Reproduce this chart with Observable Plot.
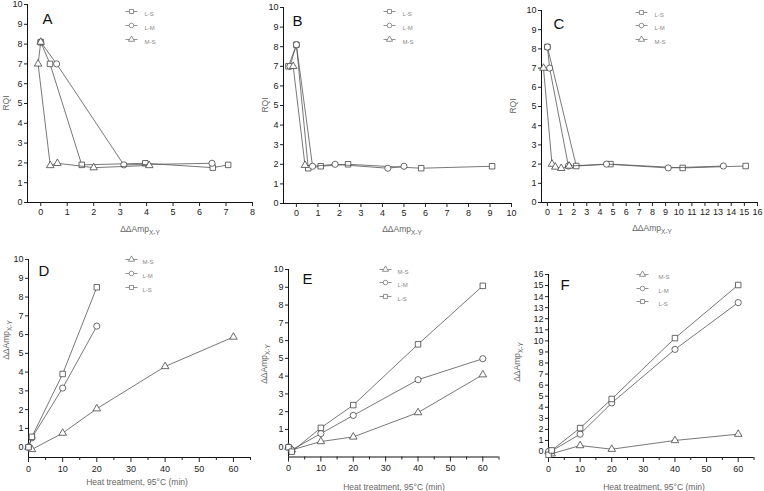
<!DOCTYPE html>
<html><head><meta charset="utf-8">
<script src="https://cdn.jsdelivr.net/npm/d3@7"></script>
<script src="https://cdn.jsdelivr.net/npm/@observablehq/plot@0.6"></script>
<style>
body{margin:0;background:#fff;}
#root{position:relative;width:764px;height:491px;overflow:hidden;font-family:"Liberation Sans",Arial,sans-serif;}
.panel{position:absolute;}
</style></head><body><div id="root"></div>
<script>
// ---------- data ----------
const seriesNames = ["L-S", "L-M", "M-S"];
const seriesSymbols = ["square", "circle", "triangle"];

// Top row: RQI vs ΔΔAmp(X-Y)
const A_LS_amp = [0, 0.35, 1.55, 3.95, 6.5, 7.08];
const A_LS_rqi = [8.1, 7.0, 1.9, 1.98, 1.76, 1.9];
const A_LM_amp = [0, 0.6, 3.14, 6.47];
const A_LM_rqi = [8.1, 7.0, 1.9, 1.98];
const A_MS_amp = [0, -0.1, 0.36, 0.63, 2.0, 4.1];
const A_MS_rqi = [8.1, 7.0, 1.87, 1.98, 1.76, 1.87];

const B_LS_amp = [-0.37, 0, 0.55, 1.13, 2.4, 5.8, 9.1];
const B_LS_rqi = [7.0, 8.1, 1.8, 1.9, 2.0, 1.8, 1.9];
const B_LM_amp = [-0.3, 0, 0.75, 1.8, 4.25, 5.0];
const B_LM_rqi = [7.0, 8.1, 1.9, 2.0, 1.8, 1.9];
const B_MS_amp = [-0.15, 0.4];
const B_MS_rqi = [7.0, 1.95];

const C_LS_amp = [0, 2.2, 4.8, 10.3, 15.1];
const C_LS_rqi = [8.1, 1.9, 2.0, 1.8, 1.9];
const C_LM_amp = [0, 0.17, 1.6, 4.5, 9.2, 13.4];
const C_LM_rqi = [8.1, 7.0, 1.9, 2.0, 1.8, 1.9];
const C_MS_amp = [-0.3, 0.35, 0.6, 1.05, 1.65];
const C_MS_rqi = [7.0, 2.0, 1.85, 1.78, 1.9];

// Bottom row: ΔΔAmp(X-Y) vs heat treatment time (min)
const heatTime = [0, 1, 10, 20, 40, 60];
const D_MS = [0, -0.12, 0.75, 2.05, 4.3, 5.87];
const D_LM = [0, 0.5, 3.15, 6.45];
const D_LS = [0, 0.55, 3.9, 8.52];
const E_MS = [0, -0.15, 0.32, 0.58, 1.95, 4.08];
const E_LM = [0, -0.15, 0.77, 1.79, 3.8, 4.98];
const E_LS = [0, -0.25, 1.09, 2.37, 5.79, 9.08];
const F_MS = [0, -0.2, 0.54, 0.21, 1.0, 1.57];
const F_LM = [0, 0.05, 1.57, 4.39, 9.23, 13.46];
const F_LS = [-0.3, 0.1, 2.12, 4.75, 10.25, 15.05];

const topXTicksA = d3.range(0, 9);
const topXTicksB = d3.range(0, 11);
const topXTicksC = d3.range(0, 17);
const rqiTicks = d3.range(0, 11);
const timeTicks = [0, 10, 20, 30, 40, 50, 60];
const timeMinorTicks = [5, 15, 25, 35, 45, 55, 65];
const ampTicks10 = d3.range(0, 11);
const ampTicks16 = d3.range(0, 17);

// ---------- helpers ----------
const zip = (xs, ys) => xs.map((x, i) => ({x, y: ys[i]}));
const symbolOf = name => seriesSymbols[seriesNames.indexOf(name)];
const legendLine = {draw(ctx) { ctx.moveTo(-6, 0); ctx.lineTo(6, 0); }};
const LINE = "#555", DOT = "#444";

function panel(cfg) {
  const marks = [];
  marks.push(Plot.ruleY([cfg.y[0]], {stroke: "#111", strokeWidth: 1}));
  marks.push(Plot.ruleX([cfg.x[0]], {stroke: "#111", strokeWidth: 1}));
  marks.push(Plot.axisX({ticks: cfg.xTicks, tickSize: cfg.bottom ? 5 : 4, tickPadding: cfg.bottom ? 3 : 2, label: null, fontSize: 9, tickFormat: d => String(d)}));
  if (cfg.xMinor) marks.push(Plot.axisX({ticks: cfg.xMinor, tickSize: 3, text: null, label: null}));
  marks.push(Plot.axisY({ticks: cfg.yTicks, tickSize: 3, tickPadding: 2, label: null, fontSize: 9, tickFormat: d => String(d)}));
  for (const s of cfg.series) {
    const data = zip(s.x, s.y);
    const sym = symbolOf(s.name);
    marks.push(Plot.line(data, {x: "x", y: "y", stroke: LINE, strokeWidth: 0.8}));
    marks.push(Plot.dot(data, {x: "x", y: "y", symbol: sym, r: sym === "triangle" ? 2.8 : 3.1, stroke: DOT, strokeWidth: 0.8, fill: "white"}));
  }
  cfg.legendOrder.forEach((name, i) => {
    const dy = cfg.legend.dy[i];
    marks.push(Plot.dot([name], {frameAnchor: "top-left", dx: cfg.legend.sx, dy, symbol: legendLine, r: 3, stroke: "#777", strokeWidth: 0.8}));
    marks.push(Plot.dot([name], {frameAnchor: "top-left", dx: cfg.legend.sx, dy, symbol: symbolOf(name), r: 2.3, stroke: "#777", strokeWidth: 0.8, fill: "white"}));
    marks.push(Plot.text([name], {frameAnchor: "top-left", dx: cfg.legend.tx, dy, text: d => d, textAnchor: "start", fontSize: 6, fill: "#888"}));
  });
  marks.push(Plot.text([cfg.letter], {frameAnchor: "top-left", dx: cfg.letterPos[0], dy: cfg.letterPos[1], text: d => d, textAnchor: "start", fontSize: 15, fill: "#111"}));

  const svg = Plot.plot({
    width: cfg.w, height: cfg.h,
    marginLeft: cfg.m[0], marginRight: cfg.m[1], marginTop: cfg.m[2], marginBottom: cfg.m[3],
    x: {domain: cfg.x}, y: {domain: cfg.y},
    style: {fontFamily: "Liberation Sans, Arial, sans-serif", fontSize: "9px", background: "transparent", color: "#222", overflow: "visible"},
    marks
  });
  const sel = d3.select(svg);
  const xl = sel.append("text").attr("x", cfg.xLabel[0]).attr("y", cfg.xLabel[1])
    .attr("text-anchor", "middle").attr("font-size", 8.5).attr("fill", "#666")
    .attr("font-family", "Liberation Sans, Arial, sans-serif");
  cfg.xLabelFn(xl);
  const yl = sel.append("text").attr("transform", `translate(${cfg.yLabel[0]},${cfg.yLabel[1]}) rotate(-90)`)
    .attr("text-anchor", "middle").attr("font-size", 8.5).attr("fill", "#666")
    .attr("font-family", "Liberation Sans, Arial, sans-serif");
  cfg.yLabelFn(yl);

  const div = document.createElement("div");
  div.className = "panel";
  div.style.left = cfg.left + "px";
  div.style.top = cfg.top + "px";
  div.appendChild(svg);
  document.getElementById("root").appendChild(div);
}

const ampLabel = t => { t.append("tspan").text("ΔΔAmp"); t.append("tspan").attr("dy", 2.5).attr("font-size", 6.5).text("X-Y"); };
const rqiLabel = t => t.text("RQI");
const heatLabel = t => t.text("Heat treatment, 95°C (min)");

// ---------- top row ----------
panel({letter: "A", left: 0, top: 0, w: 260, h: 240, m: [27, 8, 4, 38],
  x: [-0.5, 8], y: [0, 10], xTicks: topXTicksA, yTicks: rqiTicks,
  series: [{name: "L-S", x: A_LS_amp, y: A_LS_rqi}, {name: "L-M", x: A_LM_amp, y: A_LM_rqi}, {name: "M-S", x: A_MS_amp, y: A_MS_rqi}],
  legendOrder: ["L-S", "L-M", "M-S"], legend: {sx: 104, tx: 117, dy: [7, 21, 35]},
  letterPos: [15, 9], xLabel: [140, 232], xLabelFn: ampLabel, yLabel: [9, 103], yLabelFn: rqiLabel});

panel({letter: "B", left: 250, top: 0, w: 270, h: 240, m: [33, 9, 7, 37],
  x: [-0.6, 10], y: [0, 10], xTicks: topXTicksB, yTicks: rqiTicks,
  series: [{name: "L-S", x: B_LS_amp, y: B_LS_rqi}, {name: "L-M", x: B_LM_amp, y: B_LM_rqi}, {name: "M-S", x: B_MS_amp, y: B_MS_rqi}],
  legendOrder: ["L-S", "L-M", "M-S"], legend: {sx: 106, tx: 119, dy: [4, 18, 32]},
  letterPos: [9, 8], xLabel: [152, 232], xLabelFn: ampLabel, yLabel: [18, 105], yLabelFn: rqiLabel});

panel({letter: "C", left: 500, top: 0, w: 264, h: 240, m: [41, 7, 10, 38],
  x: [-0.45, 16], y: [0, 10], xTicks: topXTicksC, yTicks: rqiTicks,
  series: [{name: "L-S", x: C_LS_amp, y: C_LS_rqi}, {name: "L-M", x: C_LM_amp, y: C_LM_rqi}, {name: "M-S", x: C_MS_amp, y: C_MS_rqi}],
  legendOrder: ["L-S", "L-M", "M-S"], legend: {sx: 100, tx: 113, dy: [2, 15, 29]},
  letterPos: [12, 8], xLabel: [152, 231], xLabelFn: ampLabel, yLabel: [16, 106], yLabelFn: rqiLabel});

// ---------- bottom row ----------
panel({letter: "D", left: 0, top: 240, w: 260, h: 251, m: [28, 10, 19, 34],
  x: [0, 65], y: [-0.55, 10], xTicks: timeTicks, xMinor: timeMinorTicks, yTicks: ampTicks10, bottom: true,
  series: [{name: "M-S", x: heatTime, y: D_MS}, {name: "L-M", x: heatTime.slice(0, D_LM.length), y: D_LM}, {name: "L-S", x: heatTime.slice(0, D_LS.length), y: D_LS}],
  legendOrder: ["M-S", "L-M", "L-S"], legend: {sx: 103, tx: 114, dy: [0, 14, 28]},
  letterPos: [10, 6], xLabel: [137, 245], xLabelFn: heatLabel, yLabel: [9, 100], yLabelFn: ampLabel});

panel({letter: "E", left: 250, top: 240, w: 270, h: 251, m: [38, 21.5, 29, 34.5],
  x: [0, 65], y: [-0.55, 10], xTicks: timeTicks, xMinor: timeMinorTicks, yTicks: ampTicks10, bottom: true,
  series: [{name: "M-S", x: heatTime, y: E_MS}, {name: "L-M", x: heatTime, y: E_LM}, {name: "L-S", x: heatTime, y: E_LS}],
  legendOrder: ["M-S", "L-M", "L-S"], legend: {sx: 97, tx: 109, dy: [0, 13, 27]},
  letterPos: [14, 4], xLabel: [144, 250], xLabelFn: heatLabel, yLabel: [17, 124], yLabelFn: ampLabel});

panel({letter: "F", left: 500, top: 240, w: 264, h: 251, m: [48, 10.5, 34, 34],
  x: [0, 65], y: [-0.54, 16], xTicks: timeTicks, xMinor: timeMinorTicks, yTicks: ampTicks16, bottom: true,
  series: [{name: "M-S", x: heatTime, y: F_MS}, {name: "L-M", x: heatTime, y: F_LM}, {name: "L-S", x: heatTime, y: F_LS}],
  legendOrder: ["M-S", "L-M", "L-S"], legend: {sx: 94, tx: 110, dy: [0, 14, 27]},
  letterPos: [12, 5], xLabel: [154, 250], xLabelFn: heatLabel, yLabel: [20, 122], yLabelFn: ampLabel});
</script>
</body></html>
